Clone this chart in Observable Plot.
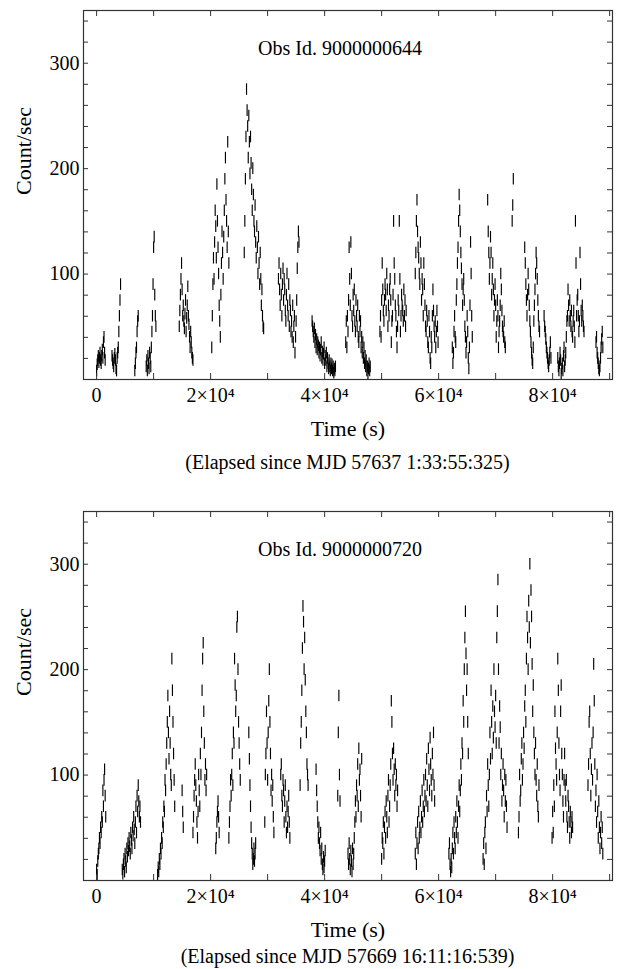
<!DOCTYPE html>
<html><head><meta charset="utf-8">
<script src="https://cdn.jsdelivr.net/npm/d3@7"></script>
<script src="https://cdn.jsdelivr.net/npm/@observablehq/plot@0.6"></script>
<style>
body{margin:0;background:#fff;}
#wrap{position:relative;width:623px;height:969px;font-family:"Liberation Serif","Times New Roman","DejaVu Serif",serif;color:#000;overflow:hidden;}
.panel{position:absolute;left:0;}
.cap{position:absolute;left:83px;width:529px;text-align:center;font-size:20px;line-height:22px;height:22px;white-space:nowrap;}
</style></head><body><div id="wrap"></div>
<script>
const obsIds = ["Obs Id. 9000000644", "Obs Id. 9000000720"];
const captions = ["(Elapsed since MJD 57637 1:33:55:325)", "(Elapsed since MJD 57669 16:11:16:539)"];
const xTitle = "Time (s)";
const yTitle = "Count/sec";
const xLabelTicks = [0, 20000, 40000, 60000, 80000];
const xLabelText = ["0", "2×10⁴", "4×10⁴", "6×10⁴", "8×10⁴"];
const xMinorTicks = [0, 10000, 20000, 30000, 40000, 50000, 60000, 70000, 80000, 90000];
const yLabelTicks = [100, 200, 300];
const yMinorTicks = [20, 40, 60, 80, 100, 120, 140, 160, 180, 200, 220, 240, 260, 280, 300, 320, 340];
const binSize = 100;   // s, light-curve bin width
const errBar = 5.5;    // count/s, half-length of each error bar

// Obs 9000000644: start time (s) of each orbit segment and its binned count rates
const start644 = [0, 2700, 6700, 8700, 14500, 20200, 25900, 31900, 37800, 43700, 49700, 55900, 62400, 68600, 72900, 75100, 78500, 80900, 87600];
const rates644 = [
  [8,14,18,22,16,20,25,18,15,22,28,20,35,40,25,18],
  [22,18,15,12,20,24,18,10,8,20,25,30,45,60,75,90],
  [8,15,25,30,45,55,60],
  [12,18,8,22,15,10,25,20,12,30,45,60,90,125,135,80,60,50],
  [50,65,80,95,110,85,60,70,55,48,62,75,45,58,70,88,60,52,40,30,45,35,25,20,18],
  [30,60,90,115,95,130,160,145,115,185,150,125,100,70,55,40,80,110,140,120,95,135,160,190,210,170,150,125,225,140,110],
  [120,150,190,230,275,255,240,210,250,225,195,230,205,180,160,200,175,150,140,165,130,115,145,125,100,135,110,90,120,95,70,85,60,50,48],
  [95,110,85,70,100,80,60,90,105,75,95,85,65,55,80,100,70,60,90,50,75,65,45,55,40,70,35,50,60,25,40,55,75,105,125,140,130],
  [55,50,45,40,48,35,42,30,38,28,35,32,25,30,22,28,35,20,26,18,24,30,15,22,18,25,12,20,15,10,18,12,8,15,10,14,8,12,6,10,8,12],
  [35,55,30,60,45,75,125,95,70,130,100,60,50,80,65,85,55,45,75,60,50,70,40,35,60,45,55,30,40,25,35,20,30,15,22,12,18,8,12,5,10,15,8,12],
  [45,60,40,75,110,85,65,55,75,90,80,65,100,85,50,70,60,85,95,75,35,55,60,80,150,110,95,70,60,45,30,50,75,65,150,95,45,60,80,70,65,55,85,60,75,50,65],
  [100,120,150,170,140,125,115,100,90,130,110,75,95,85,60,110,90,70,50,45,65,55,35,30,60,45,20,15,40,30,60,85,65,50,40,55,30,45,65,50,35],
  [30,15,25,45,60,40,35,75,90,110,125,150,175,160,140,120,105,90,70,85,95,75,50,40,25,35,60,45,20,10,30,70,130,100,60,40],
  [170,140,120,95,110,135,120,80,95,110,85,60,75,90,70,40,55,75,60,30,45,55,70,100,85,65,50,45,40,55,35,30],
  [150,165,190],
  [125,110,90,75,60,80,100,85,70,55,45,35,25,18,15,30,55,70,85,100,120,110,95,75,60,50,45],
  [60,50,45,38,30,25,20,15,12,18,25,35,20],
  [20,12,8,15,25,18,5,10,15,8,22,30,12,18,25,40,55,60,85,70,55,75,60,50,65,45,40,55,65,50,35,150,110,60,75,80,60,45,55,120,90,65,55,70,60,50,45],
  [35,40,25,20,15,10,8,12,20,30,38,45,30]
];

// Obs 9000000720
const start720 = [0, 4500, 10700, 15000, 16900, 20900, 23200, 26700, 29500, 32300, 35700, 38500, 42300, 44100, 50000, 55900, 61800, 67800, 74000, 79900, 86200];
const rates720 = [
  [10,5,18,25,30,40,35,50,45,60,55,85,70,95,105,80,60],
  [10,6,15,20,8,25,18,12,30,22,35,28,40,32,25,45,38,30,50,42,60,48,35,55,70,45,80,65,90,75,60,70,55],
  [5,12,8,20,15,30,25,40,35,55,50,70,65,95,85,110,130,150,175,140,115,160,130,100,90,210,180,150,120,95,70],
  [85,65,50],
  [45,60,80,95,110,90,75,55,40,65,100,85,70,120,100,140,180,210,225,160,130,95,110,85,100],
  [30,40,55,65,75,60,45],
  [40,55,70,95,80,100,120,90,140,130,210,185,160,175,240,250,200,150,130,110,95],
  [140,115,90,70,50,35,25,15,20,30,18,25,35],
  [55,100,120,160,130,95,140,170,200,150,120,85,100,75,90,60,45],
  [100,110,80,70,95,85,55,75,90,60,45,70,50,65,80,55,40],
  [90,130,150,180,220,260,245,200,230,190,160,140,110,100,90],
  [105,85,70,55,40,50,35,28,45,20,30,15,10,22,12,18,28],
  [80,140,175,100,75],
  [25,15,35,20,10,28,18,8,30,15,25,40,55,75,60,90,80,110,70,125,95,105,80,60,115],
  [20,40,35,55,25,50,65,40,75,60,45,80,95,55,70,90,110,170,150,120,95,125,105,80,110,90,100,70,85],
  [25,45,15,35,55,30,65,40,50,75,45,60,85,55,70,95,65,80,100,75,115,90,70,125,105,85,135,110,95,80,120,100,140,90,75],
  [25,35,15,8,20,12,30,45,25,55,40,30,60,45,75,55,40,70,90,65,85,110,95,130,120,170,150,200,230,255,215,180,200,150,120],
  [20,35,15,45,55,30,80,65,110,90,70,100,140,115,180,150,120,165,135,200,160,145,175,130,230,255,285,200,130,165,145,100,120,75,90,110,85,60,100,75,95,70,50],
  [45,60,100,75,85,115,130,95,110,140,125,165,180,150,210,250,230,200,265,240,300,225,275,250,205,160,185,140,120,100,130,95,80,110,70,60,90],
  [40,65,45,90,70,160,125,110,95,140,210,180,130,100,85,160,185,120,100,75,60,95,120,90,75,95,60,50,80,70,55,40,65,55,45,60,50],
  [90,110,150,160,120,80,105,130,95,140,205,170,110,70,85,55,100,65,40,75,50,30,45,60,35,50,25]
];

function toPoints(starts, rates) {
  const pts = [];
  starts.forEach((s, k) => rates[k].forEach((r, j) => pts.push({t: s + j * binSize, r})));
  return pts;
}
const panels = [toPoints(start644, rates644), toPoints(start720, rates720)];

const W = 623, mT = 10, mL = 83, mR = 11, frameH = 369, mB = 60;
const frameW = W - mL - mR;
const wrap = document.getElementById("wrap");
const fmt = new Map(xLabelTicks.map((t, i) => [t, xLabelText[i]]));
const FONT = "'Liberation Serif', 'Times New Roman', 'DejaVu Serif', serif";

panels.forEach((data, i) => {
  const top = i === 0 ? 0 : 501;
  const chart = Plot.plot({
    width: W, height: mT + frameH + mB,
    marginTop: mT, marginLeft: mL, marginRight: mR, marginBottom: mB,
    style: {fontFamily: FONT, fontSize: "20px", background: "white", color: "black", overflow: "visible"},
    x: {domain: [-2300, 90500]},
    y: {domain: [0, 350]},
    marks: [
      Plot.ruleX(data, {x: "t", y1: d => d.r - errBar, y2: d => d.r + errBar, stroke: "#000", strokeWidth: 1.15, clip: true}),
      Plot.ruleX(xMinorTicks, {x: d => d, insetTop: frameH - 6, stroke: "#333"}),
      Plot.ruleX(xMinorTicks, {x: d => d, insetBottom: frameH - 6, stroke: "#333"}),
      Plot.ruleY(yMinorTicks, {y: d => d, insetRight: frameW - 5, stroke: "#333"}),
      Plot.ruleY(yMinorTicks, {y: d => d, insetLeft: frameW - 5, stroke: "#333"}),
      Plot.frame({stroke: "#333", strokeWidth: 1.2}),
      Plot.axisX(xLabelTicks, {tickSize: 0, tickPadding: 8, tickFormat: d => fmt.get(d), fontSize: 20, label: null}),
      Plot.axisY(yLabelTicks, {tickSize: 0, tickPadding: 4, fontSize: 20, label: null}),
      Plot.text([xTitle], {frameAnchor: "bottom", dy: 49, text: d => d, fontSize: 22, lineAnchor: "middle"}),
      Plot.text([yTitle], {frameAnchor: "left", dx: -60, rotate: -90, text: d => d, fontSize: 22, lineAnchor: "middle"}),
      Plot.text([obsIds[i]], {frameAnchor: "top", dy: 38, dx: -8, text: d => d, fontSize: 20, lineAnchor: "middle"})
    ]
  });
  chart.classList.add("panel");
  chart.style.top = top + "px";
  wrap.appendChild(chart);
  const cap = document.createElement("div");
  cap.className = "cap";
  cap.textContent = captions[i];
  cap.style.top = (i === 0 ? 451 : 945) + "px";
  wrap.appendChild(cap);
});
</script></body></html>
